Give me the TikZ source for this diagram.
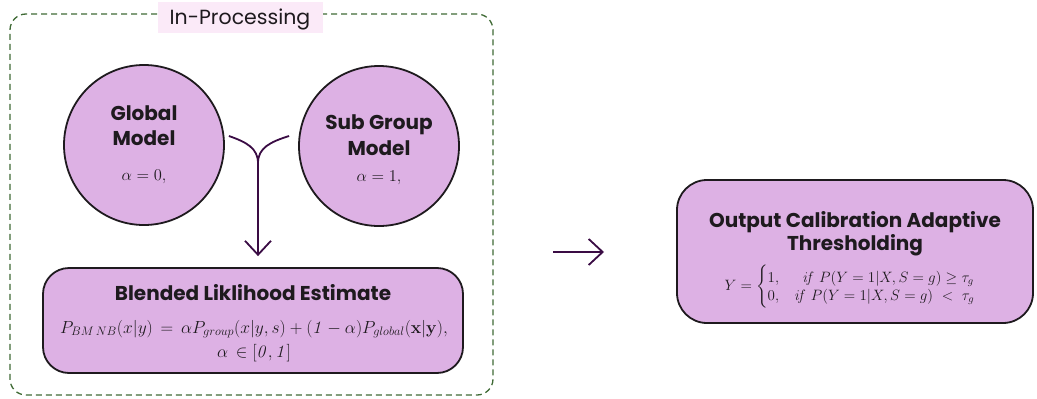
\RequirePackage{fix-cm}
\documentclass[tikz,border=0pt]{standalone}
\usepackage{amsmath}
\usepackage[no-math]{fontspec}
\newfontfamily\pop{Poppins}
\usetikzlibrary{arrows.meta,calc}
\definecolor{lav}{HTML}{DDB1E4}
\definecolor{edge}{HTML}{1E1A1E}
\definecolor{arrc}{HTML}{3A0C44}
\definecolor{frm}{HTML}{3F6A35}
\definecolor{titlebg}{HTML}{FBEAF8}
\tikzset{
  model/.style={circle, draw=edge, line width=1.8pt, fill=lav, minimum size=160pt, inner sep=0pt},
  rbox/.style={rounded corners=26pt, draw=edge, line width=1.8pt, fill=lav, inner sep=0pt},
  head/.style={anchor=base, inner sep=0pt, text=edge, font=\pop\bfseries\fontsize{20}{23}\selectfont},
  mth/.style={anchor=base, inner sep=0pt, text=edge},
  arr/.style={draw=arrc, line width=1.8pt},
  tip/.style={-{Straight Barb[length=14pt,width=26pt,line width=1.8pt]}},
}
\begin{document}
\begin{tikzpicture}[x=1pt,y=-1pt]
\useasboundingbox (0,0) rectangle (1037,399);
% frame
\node[draw=frm, dashed, dash pattern=on 6pt off 4pt, line width=1.3pt, rounded corners=16pt, minimum width=483pt, minimum height=381pt, inner sep=0pt] (frame) at (251.5,204.5) {};
\node[fill=titlebg, minimum width=165pt, minimum height=31pt, inner sep=0pt] (titlebox) at (240,17.5) {};
\node[anchor=base, inner sep=0pt, text=edge, font=\pop\fontsize{20.5}{23}\selectfont] (title) at (240,24.5) {In-Processing};
% models
\node[model] (g) at (144,145) {};
\node[head] (g1) at (144,120) {Global};
\node[head] (g2) at (144,145) {Model};
\node[mth, font=\fontsize{16.5}{19}\selectfont] (g3) at (144,180) {$\alpha=0,$};
\node[model] (sg) at (379,146) {};
\node[head] (s1) at (379,129) {Sub Group};
\node[head] (s2) at (379,155) {Model};
\node[mth, font=\fontsize{16.5}{19}\selectfont] (s3) at (379,181) {$\alpha=1,$};
% blended box
\node[rbox, minimum width=420pt, minimum height=105pt] (bl) at (253,320.5) {};
\node[head] (blt) at (253,300) {Blended Liklihood Estimate};
\node[mth, font=\fontsize{17.5}{21}\selectfont] (blf) at (254,333) {$P_{BM\,NB}(x|y)\,=\,\alpha P_{group}(x|y,s)+(\mathit{1}-\alpha)P_{global}(\mathbf{x}|\mathbf{y}),$};
\node[mth, font=\fontsize{17.5}{21}\selectfont] (bla) at (254,357) {$\alpha\,\in[\mathit{0},\mathit{1}]$};
% Y connector
\coordinate (ja) at ($(g.east)+(4,-9)$);
\coordinate (jb) at ($(sg.west)+(-9,-10)$);
\coordinate (j) at (258,163);
\coordinate (bt) at ($(bl.north)+(5,-11)$);
\draw[arr] (ja) .. controls (246,142) and (258,148) .. (j);
\draw[arr] (jb) .. controls (270,142) and (258,148) .. (j);
\draw[arr,tip] (j) -- (bt);
% output box
\node[rbox, rounded corners=30pt, minimum width=356pt, minimum height=143pt] (out) at (855,251.5) {};
\node[head] (o1) at (855,227) {Output Calibration Adaptive};
\node[head] (o2) at (855,250) {Thresholding};
\node[inner sep=0pt, text=edge, font=\fontsize{15}{18}\selectfont] (outf) at (850,287) {$Y=\begin{cases}1, & \;\;\mathit{if}\ P(Y=1|X,S=g)\geq\tau_g\\[-3pt] 0, & \mathit{if}\ P(Y=1|X,S=g)\ <\ \tau_g\end{cases}$};
% right arrow
\coordinate (a1) at (553,252);
\coordinate (a2) at (604,252);
\draw[arr,tip] (a1) -- (a2);
\end{tikzpicture}
\end{document}
